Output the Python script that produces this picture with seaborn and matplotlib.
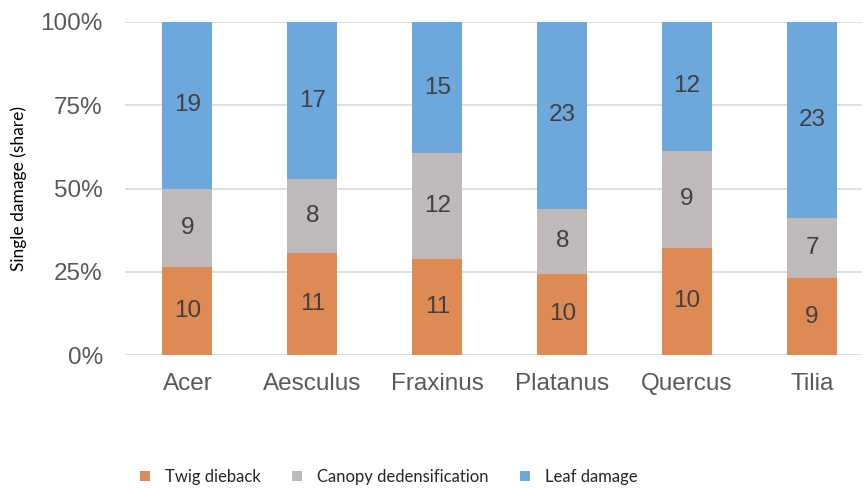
import numpy as np
import pandas as pd
import matplotlib
matplotlib.use("Agg")
import matplotlib.pyplot as plt
import seaborn as sns
from matplotlib.patches import Patch

species = ["Acer", "Aesculus", "Fraxinus", "Platanus", "Quercus", "Tilia"]
twig = [10, 11, 11, 10, 10, 9]
canopy = [9, 8, 12, 8, 9, 7]
leaf = [19, 17, 15, 23, 12, 23]
series_names = ["Twig dieback", "Canopy dedensification", "Leaf damage"]
colors = ["#DE8A55", "#BFB9B9", "#6DA8DC"]

sns.set_theme(style="white")
plt.rcParams['font.family'] = ['Liberation Sans', 'DejaVu Sans']

tot = np.array(twig) + np.array(canopy) + np.array(leaf)
s_twig = np.array(twig) / tot
s_can = np.array(canopy) / tot
s_leaf = np.array(leaf) / tot
cum1 = s_twig
cum2 = s_twig + s_can
cum3 = cum2 + s_leaf

df = pd.DataFrame({"species": species, "c1": cum1, "c2": cum2, "c3": cum3})

fig = plt.figure(figsize=(8.64, 4.88), dpi=100)
ax = fig.add_axes([125 / 864, 1 - 355 / 488, (862 - 125) / 864, (355 - 22) / 488])

for col, c in zip(["c3", "c2", "c1"], colors[::-1]):
    sns.barplot(data=df, x="species", y=col, color=c, width=0.4, ax=ax,
                saturation=1, edgecolor="none", linewidth=0, zorder=2)

for i in range(len(species)):
    for val, lo, hi in [(twig[i], 0, cum1[i]), (canopy[i], cum1[i], cum2[i]), (leaf[i], cum2[i], cum3[i])]:
        ax.text(i, (lo + hi) / 2, str(val), ha="center", va="center",
                fontsize=17.5, color="#404040", zorder=3)

ax.set_xlim(-0.5, 5.4)
ax.set_ylim(0, 1)
ax.set_yticks([0, 0.25, 0.5, 0.75, 1.0])
ax.set_yticklabels(["0%", "25%", "50%", "75%", "100%"])
ax.yaxis.grid(True, color="#D9D9D9", linewidth=1.2, zorder=0)
ax.set_axisbelow(True)
for s in ax.spines.values():
    s.set_visible(False)
ax.tick_params(axis="both", length=0, labelsize=17.5, labelcolor="#595959")
ax.tick_params(axis="y", pad=16)
ax.tick_params(axis="x", pad=13)
ax.set_xlabel("")
ax.set_ylabel("Single damage (share)", fontsize=12.5, family=["Lato", "DejaVu Sans"],
              color="#000000", labelpad=10)

handles = [Patch(facecolor=c, edgecolor="none") for c in colors]
fig.legend(handles, series_names, loc="center", bbox_to_anchor=(389 / 864, 1 - 477 / 488),
           ncol=3, frameon=False, prop={"family": ["Lato", "DejaVu Sans"], "size": 12},
           handlelength=0.6, handleheight=0.6, columnspacing=1.9, handletextpad=0.9)

fig.savefig("out.png", dpi=100)
